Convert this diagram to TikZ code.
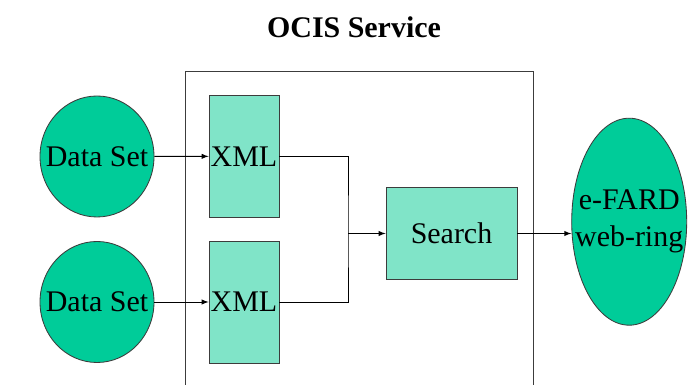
\documentclass[tikz,border=0pt]{standalone}
\usepackage{fontspec}
\setmainfont{Liberation Serif}
\usepackage{xcolor}
\usetikzlibrary{shapes.geometric}

\definecolor{setgreen}{RGB}{0,204,153}
\definecolor{boxgreen}{RGB}{128,228,200}
\definecolor{edgegray}{RGB}{60,60,60}

\tikzset{
    bigfont/.style={font=\fontsize{21.3pt}{26.3pt}\selectfont},
    dataset/.style={ellipse, draw=edgegray, fill=setgreen, line width=0.6pt,
        inner xsep=-5mm, inner ysep=0pt, minimum width=2.85cm, minimum height=3.025cm, bigfont},
    xmlbox/.style={rectangle, draw=edgegray, fill=boxgreen, line width=0.6pt,
        inner sep=0pt, minimum width=1.75cm, minimum height=3.05cm, bigfont},
    link/.style={black, line width=0.7pt}
}

\begin{document}
\begin{tikzpicture}
            \useasboundingbox (0,0) rectangle (17.325,9.625);
            \fill[white] (0,0) rectangle (17.325,9.625);
            \node[font=\fontsize{21.3pt}{26.3pt}\selectfont\bfseries] (title) at (8.85,8.95) {OCIS Service};
            % service frame, runs off the bottom of the page
            \draw[edgegray, line width=0.7pt] (4.645,-0.3) rectangle (13.325,7.83);
            \node[dataset] (set1) at (2.425,5.7125) {Data Set};
            \node[dataset] (set2) at (2.425,2.075) {Data Set};
            \node[xmlbox] (xml1) at (6.1,5.7175) {XML};
            \node[xmlbox] (xml2) at (6.1,2.075) {XML};
            \node[xmlbox, minimum width=3.275cm, minimum height=2.29cm] (search) at (11.2875,3.7875) {Search};
            \node[dataset, minimum width=2.875cm, minimum height=5.175cm, align=center] (ring) at (15.73,4.0825) {e-FARD\\web-ring};
            \coordinate (join) at (8.7,3.7875);
            \draw[link, -latex] (set1) -- (xml1);
            \draw[link, -latex] (set2) -- (xml2);
            \draw[link] (xml1.east) -| (join) |- (xml2.east);
            \draw[link, -latex] (join) -- (search.west);
            \draw[link, -latex] (search.east) -- (search.east -| ring.west);
        \end{tikzpicture}
\end{document}
